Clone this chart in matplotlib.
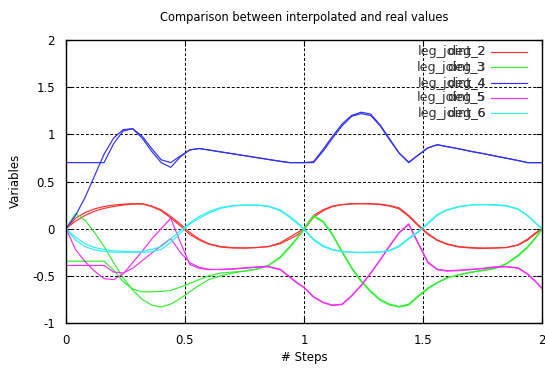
import numpy as np
import matplotlib
matplotlib.use("Agg")
import matplotlib.pyplot as plt
from matplotlib.lines import Line2D

# sample positions (steps)
steps = [0.00, 0.04, 0.08, 0.12, 0.16, 0.20, 0.24, 0.28, 0.32, 0.36, 0.40, 0.44, 0.48,
         0.52, 0.56, 0.60, 0.65, 0.70, 0.75, 0.80, 0.85, 0.90, 0.94, 0.97, 1.00,
         1.04, 1.08, 1.12, 1.16, 1.20, 1.24, 1.28, 1.32, 1.36, 1.40, 1.44, 1.48,
         1.52, 1.56, 1.60, 1.65, 1.70, 1.75, 1.80, 1.85, 1.90, 1.94, 1.97, 2.00]

# joint 2
joint2_real = [0.00, 0.11, 0.17, 0.21, 0.235, 0.25, 0.26, 0.265, 0.265, 0.24, 0.20, 0.13, 0.05,
               -0.04, -0.11, -0.16, -0.19, -0.20, -0.205, -0.20, -0.19, -0.15, -0.09, -0.045, 0.00,
               0.14, 0.20, 0.24, 0.255, 0.265, 0.265, 0.265, 0.26, 0.245, 0.22, 0.14, 0.04,
               -0.05, -0.12, -0.16, -0.19, -0.20, -0.205, -0.205, -0.20, -0.17, -0.11, -0.05, 0.00]
joint2_interp = [0.00, 0.08, 0.14, 0.185, 0.215, 0.235, 0.25, 0.26, 0.262, 0.235, 0.19, 0.115, 0.03,
                 -0.06, -0.12, -0.165, -0.195, -0.205, -0.205, -0.20, -0.19, -0.16, -0.11, -0.07, -0.01,
                 0.12, 0.19, 0.235, 0.255, 0.262, 0.265, 0.262, 0.255, 0.24, 0.21, 0.13, 0.03,
                 -0.06, -0.125, -0.165, -0.195, -0.205, -0.21, -0.205, -0.20, -0.175, -0.12, -0.06, 0.00]

# joint 3
joint3_real = [0.00, 0.16, 0.09, -0.04, -0.19, -0.36, -0.52, -0.65, -0.75, -0.81, -0.83, -0.80, -0.74,
               -0.67, -0.60, -0.54, -0.50, -0.47, -0.45, -0.43, -0.39, -0.30, -0.19, -0.10, 0.00,
               0.14, 0.08, -0.06, -0.24, -0.41, -0.55, -0.66, -0.75, -0.80, -0.825, -0.80, -0.71,
               -0.63, -0.57, -0.52, -0.49, -0.46, -0.44, -0.42, -0.37, -0.28, -0.19, -0.10, 0.00]
joint3_interp = [-0.345, -0.345, -0.345, -0.345, -0.345, -0.44, -0.56, -0.64, -0.67, -0.67, -0.665, -0.655, -0.62,
                 -0.58, -0.54, -0.50, -0.47, -0.46, -0.45, -0.43, -0.39, -0.31, -0.20, -0.11, -0.01,
                 0.13, 0.07, -0.07, -0.25, -0.42, -0.56, -0.67, -0.76, -0.81, -0.83, -0.81, -0.72,
                 -0.64, -0.575, -0.525, -0.49, -0.465, -0.445, -0.425, -0.375, -0.29, -0.20, -0.11, -0.01]

# joint 4
joint4_real = [0.70, 0.70, 0.70, 0.70, 0.70, 0.90, 1.035, 1.06, 0.98, 0.85, 0.73, 0.70, 0.77,
               0.835, 0.85, 0.834, 0.814, 0.794, 0.774, 0.754, 0.734, 0.714, 0.70, 0.70, 0.70,
               0.71, 0.84, 0.98, 1.11, 1.20, 1.235, 1.215, 1.10, 0.95, 0.80, 0.705, 0.78,
               0.855, 0.89, 0.87, 0.847, 0.82, 0.797, 0.772, 0.747, 0.722, 0.70, 0.70, 0.70]
joint4_interp = [0.00, 0.14, 0.33, 0.56, 0.79, 0.96, 1.05, 1.06, 0.96, 0.82, 0.70, 0.65, 0.76,
                 0.835, 0.85, 0.834, 0.814, 0.794, 0.774, 0.754, 0.734, 0.714, 0.70, 0.70, 0.70,
                 0.70, 0.82, 0.96, 1.09, 1.19, 1.22, 1.20, 1.09, 0.94, 0.80, 0.70, 0.78,
                 0.855, 0.89, 0.87, 0.847, 0.82, 0.797, 0.772, 0.747, 0.722, 0.70, 0.70, 0.70]

# joint 5
joint5_real = [0.00, -0.22, -0.35, -0.45, -0.53, -0.54, -0.48, -0.36, -0.24, -0.11, 0.00, 0.11, -0.14,
               -0.38, -0.42, -0.435, -0.43, -0.425, -0.415, -0.405, -0.40, -0.43, -0.51, -0.57, -0.62,
               -0.72, -0.78, -0.81, -0.80, -0.71, -0.60, -0.47, -0.33, -0.18, -0.04, 0.05, -0.15,
               -0.35, -0.43, -0.445, -0.44, -0.43, -0.42, -0.405, -0.40, -0.415, -0.48, -0.55, -0.63]
joint5_interp = [-0.39, -0.39, -0.39, -0.39, -0.39, -0.46, -0.47, -0.42, -0.34, -0.26, -0.18, -0.105, -0.25,
                 -0.36, -0.41, -0.43, -0.435, -0.43, -0.42, -0.41, -0.405, -0.435, -0.515, -0.575, -0.625,
                 -0.725, -0.785, -0.815, -0.805, -0.715, -0.605, -0.475, -0.335, -0.185, -0.045, 0.045, -0.16,
                 -0.36, -0.435, -0.45, -0.445, -0.435, -0.425, -0.41, -0.405, -0.42, -0.485, -0.555, -0.635]

# joint 6
joint6_real = [0.00, -0.09, -0.16, -0.20, -0.22, -0.235, -0.24, -0.245, -0.24, -0.22, -0.19, -0.11, -0.02,
               0.06, 0.13, 0.18, 0.225, 0.245, 0.25, 0.25, 0.24, 0.20, 0.13, 0.07, 0.00,
               -0.11, -0.18, -0.22, -0.24, -0.25, -0.25, -0.25, -0.245, -0.23, -0.18, -0.10, -0.03,
               0.06, 0.15, 0.20, 0.235, 0.25, 0.255, 0.255, 0.245, 0.21, 0.14, 0.07, 0.00]
joint6_interp = [0.00, -0.12, -0.19, -0.225, -0.24, -0.25, -0.25, -0.25, -0.25, -0.245, -0.22, -0.145, -0.05,
                 0.05, 0.11, 0.165, 0.215, 0.24, 0.25, 0.25, 0.235, 0.19, 0.12, 0.06, -0.01,
                 -0.12, -0.19, -0.225, -0.245, -0.25, -0.255, -0.25, -0.25, -0.235, -0.19, -0.11, -0.04,
                 0.05, 0.14, 0.195, 0.23, 0.25, 0.255, 0.25, 0.24, 0.205, 0.135, 0.065, 0.00]

labels_real = ["leg_joint_2", "leg_joint_3", "leg_joint_4", "leg_joint_5", "leg_joint_6"]
labels_interp = ["deg_2", "deg_3", "deg_4", "deg_5", "deg_6"]
colors = ["#ff3030", "#30f030", "#3030f0", "#f030f0", "#30f0f0"]

series = [(joint2_real, joint2_interp), (joint3_real, joint3_interp),
          (joint4_real, joint4_interp), (joint5_real, joint5_interp),
          (joint6_real, joint6_interp)]

W, H = 545, 372
fig = plt.figure(figsize=(W / 100, H / 100), dpi=100)
ax = fig.add_axes([66 / W, 1 - 323 / H, (542 - 66) / W, (323 - 40) / H])

for (real, interp), c in zip(series, colors):
    ax.plot(steps, real, color=c, lw=0.85)
    ax.plot(steps, interp, color=c, lw=0.85)

ax.set_xlim(0, 2)
ax.set_ylim(-1, 2)
ax.set_xticks([0, 0.5, 1, 1.5, 2])
ax.set_xticklabels(["0", "0.5", "1", "1.5", "2"])
ax.set_yticks([-1, -0.5, 0, 0.5, 1, 1.5, 2])
ax.set_yticklabels(["-1", "-0.5", "0", "0.5", "1", "1.5", "2"])
ax.tick_params(direction="in", length=4, width=0.8, labelsize=8.5, pad=8,
               top=True, right=True)

# dashed grid on the inner ticks only
for gx in [0.5, 1, 1.5]:
    ax.axvline(gx, color="black", lw=0.7, ls=(0, (3, 2)), zorder=0)
for gy in [-0.5, 0, 0.5, 1, 1.5]:
    ax.axhline(gy, color="black", lw=0.7, ls=(0, (3, 2)), zorder=0)

for s in ax.spines.values():
    s.set_linewidth(1.0)

fig.text(0.5 * (66 + 542) / W, 1 - 17 / H, "Comparison between interpolated and real values",
         ha="center", va="center", fontsize=8.3)
fig.text(0.5 * (66 + 542) / W, 1 - 358 / H, "# Steps", ha="center", va="center", fontsize=8.5)
fig.text(15 / W, 1 - 181 / H, "Variables", ha="center", va="center", rotation=90, fontsize=8.5)

# key: both titles land on the same spot
rows = [52, 67, 83, 98, 113]
for r, a, b, c in zip(rows, labels_real, labels_interp, colors):
    fig.text(486 / W, 1 - r / H, a, ha="right", va="center", fontsize=9.2, color="#333333")
    fig.text(486 / W, 1 - r / H, b, ha="right", va="center", fontsize=9.2, color="#333333")
    fig.add_artist(Line2D([491 / W, 527 / W], [1 - r / H, 1 - r / H], color=c, lw=0.85))

fig.savefig("out.png", dpi=100)
